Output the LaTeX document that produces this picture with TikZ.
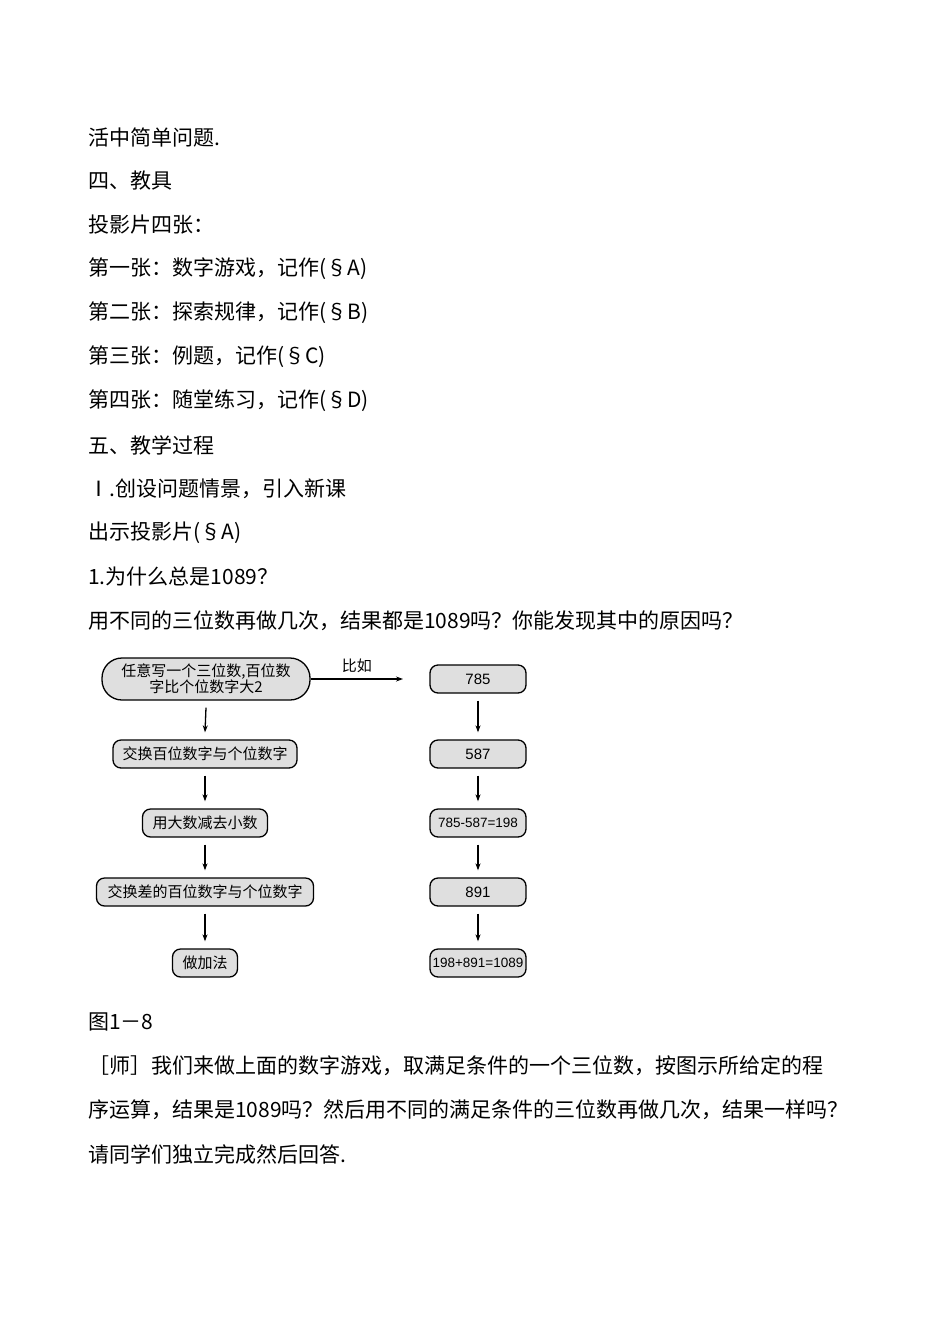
\documentclass[tikz,border=0pt]{standalone}
\usepackage{fontspec}
\setmainfont{Liberation Serif}
\newfontfamily\cjk{Noto Sans CJK SC}
\newfontfamily\dsans{Liberation Sans}
\usetikzlibrary{arrows.meta}
\begin{document}
\begin{tikzpicture}[x=1pt,y=-1pt,
  body/.style={anchor=west,inner sep=0pt,font=\cjk\fontsize{21}{24}\selectfont},
  fbox/.style={draw,line width=1.3pt,fill=gray!25,rounded corners=8pt,inner sep=0pt,minimum height=28pt,font=\cjk\fontsize{15}{17}\selectfont},
  arr/.style={-{Stealth[length=7pt,width=5pt]},line width=1.3pt}]
\useasboundingbox (0,0) rectangle (950,1342);
\node[body] (l1) at (88,137) {活中简单问题.};
\node[body] (l2) at (88,181) {四、教具};
\node[body] (l3) at (88,225) {投影片四张：};
\node[body] (l4) at (88,269) {第一张：数字游戏，记作(§A)};
\node[body] (l5) at (88,313) {第二张：探索规律，记作(§B)};
\node[body] (l6) at (88,357) {第三张：例题，记作(§C)};
\node[body] (l7) at (88,401) {第四张：随堂练习，记作(§D)};
\node[body] (l8) at (88,445) {五、教学过程};
\node[body] (l9) at (88,489) {Ⅰ.创设问题情景，引入新课};
\node[body] (l10) at (88,533) {出示投影片(§A)};
\node[body] (l11) at (88,577) {1.为什么总是1089？};
\node[body] (l12) at (88,621) {用不同的三位数再做几次，结果都是1089吗？你能发现其中的原因吗？};
\node[body] (l13) at (88,1022) {图1－8};
\node[body] (l14) at (88,1066) {［师］我们来做上面的数字游戏，取满足条件的一个三位数，按图示所给定的程};
\node[body] (l15) at (88,1110) {序运算，结果是1089吗？然后用不同的满足条件的三位数再做几次，结果一样吗？};
\node[body] (l16) at (88,1154) {请同学们独立完成然后回答.};

\node[fbox,rounded corners=20pt,minimum width=208pt,minimum height=42pt,align=center,font=\cjk\fontsize{15}{16}\selectfont] (a1) at (206,679) {任意写一个三位数,百位数\\字比个位数字大2};
\node[fbox,minimum width=184pt] (a2) at (205,754) {交换百位数字与个位数字};
\node[fbox,minimum width=125pt] (a3) at (205,823) {用大数减去小数};
\node[fbox,minimum width=217pt] (a4) at (205,892) {交换差的百位数字与个位数字};
\node[fbox,minimum width=65pt] (a5) at (205,963) {做加法};

\node[fbox,minimum width=96pt] (b1) at (478,679) {\dsans 785};
\node[fbox,minimum width=96pt] (b2) at (478,754) {\dsans 587};
\node[fbox,minimum width=96pt] (b3) at (478,823) {\dsans\fontsize{13.5}{15}\selectfont 785-587=198};
\node[fbox,minimum width=96pt] (b4) at (478,892) {\dsans 891};
\node[fbox,minimum width=96pt] (b5) at (478,963) {\dsans\fontsize{13.5}{15}\selectfont 198+891=1089};

\coordinate (e) at (403,679);
\draw[arr] (a1.east) -- (e) node[midway,above=2pt,font=\cjk\fontsize{15}{17}\selectfont] {比如};
\foreach \s/\t in {a1/a2,a2/a3,a3/a4,a4/a5,b1/b2,b2/b3,b3/b4,b4/b5}{
  \draw[arr] ([yshift=-7pt]\s.south) -- ([yshift=7pt]\t.north);}
\end{tikzpicture}
\end{document}
